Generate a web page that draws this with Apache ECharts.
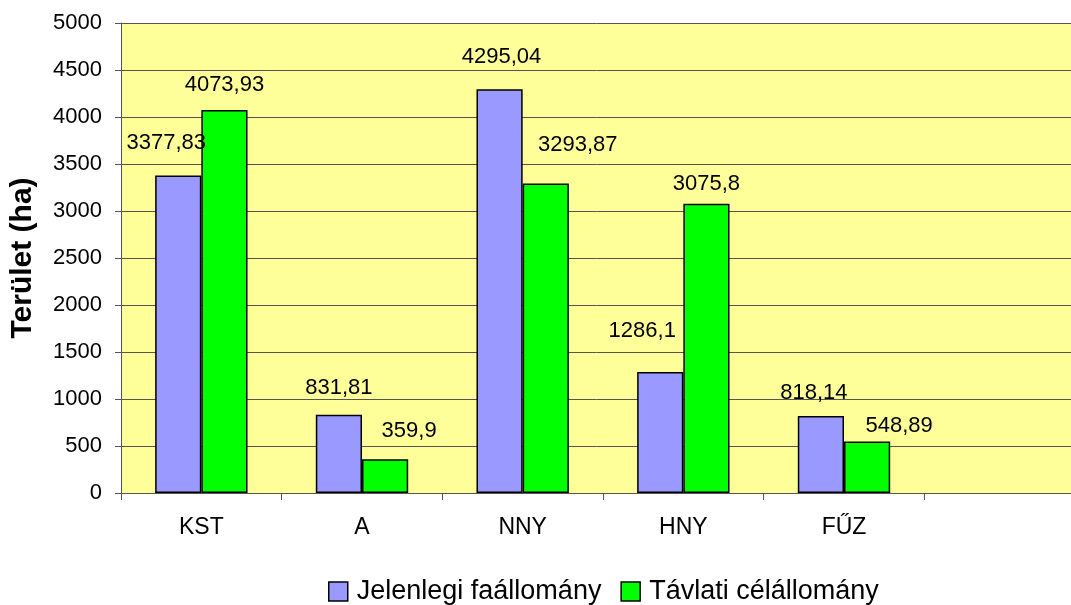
<!DOCTYPE html>
<html>
<head>
<meta charset="utf-8">
<script src="https://cdn.jsdelivr.net/npm/echarts@6/dist/echarts.min.js"></script>
<style>
html,body{margin:0;padding:0;background:#fff;overflow:hidden;}
#chart{width:1071px;height:605px;}
</style>
</head>
<body>
<div id="chart"></div>
<script>
const categories = ['KST', 'A', 'NNY', 'HNY', 'FŰZ', ''];
const jelenlegi = [3377.83, 831.81, 4295.04, 1286.1, 818.14, null];
const tavlati = [4073.93, 359.9, 3293.87, 3075.8, 548.89, null];
const seriesNames = ['Jelenlegi faállomány', 'Távlati célállomány'];
const yAxisTitle = 'Terület (ha)';

// label offsets (layout only)
const offJ = [[-12,-22],[0,-16],[2,-21],[-18,-30],[-7,-12],[0,0]];
const offT = [[0,-14],[24,-17],[32,-27],[0,-9],[32,-4],[0,0]];

function fmt(v){ return String(v).replace('.', ','); }
function build(vals, offs){
  return vals.map((v,i)=> v==null ? null : ({value:v, label:{offset:offs[i]}}));
}

const chart = echarts.init(document.getElementById('chart'), null, {renderer:'canvas'});
const FONT = 'Liberation Sans, Arial, sans-serif';
chart.setOption({
  animation:false,
  textStyle:{fontFamily:FONT},
  grid:{left:121, width:964, top:23, height:470, show:true, backgroundColor:'#FFFF99', borderWidth:0,
        containLabel:false, outerBoundsMode:'none'},
  legend:{
    data:seriesNames, left:323, top:573, itemWidth:19, itemHeight:19, itemGap:19, icon:'rect',
    itemStyle:{borderColor:'#000', borderWidth:1.5},
    textStyle:{fontSize:27, color:'#000', fontFamily:FONT, padding:[0,0,0,4]}
  },
  xAxis:{
    type:'category', data:categories,
    axisLine:{lineStyle:{color:'#555', width:1}},
    axisTick:{show:true, length:7, lineStyle:{color:'#555'}},
    axisLabel:{fontSize:23, color:'#000', margin:23, fontFamily:FONT},
    splitLine:{show:false}
  },
  yAxis:{
    type:'value', min:0, max:5000, interval:500,
    name:yAxisTitle, nameLocation:'middle', nameGap:83,
    nameTextStyle:{fontSize:30, fontWeight:'bold', color:'#000', fontFamily:FONT},
    axisLine:{show:true, lineStyle:{color:'#555', width:1}},
    axisTick:{show:true, length:6, lineStyle:{color:'#555'}},
    axisLabel:{fontSize:22, color:'#000', margin:19, fontFamily:FONT, formatter:v=>String(v)},
    splitLine:{show:true, lineStyle:{color:'#555', width:1}}
  },
  series:[
    {name:seriesNames[0], type:'bar', data:build(jelenlegi, offJ), barGap:'0%', barCategoryGap:'42.5%',
     itemStyle:{color:'#9999FF', borderColor:'#000', borderWidth:1.5},
     label:{show:true, position:'top', distance:0, fontSize:22, color:'#000', fontFamily:FONT,
       formatter:p=>fmt(p.value)}},
    {name:seriesNames[1], type:'bar', data:build(tavlati, offT), barGap:'0%', barCategoryGap:'42.5%',
     itemStyle:{color:'#00FF00', borderColor:'#000', borderWidth:1.5},
     label:{show:true, position:'top', distance:0, fontSize:22, color:'#000', fontFamily:FONT,
       formatter:p=>fmt(p.value)}}
  ]
});
</script>
</body>
</html>
